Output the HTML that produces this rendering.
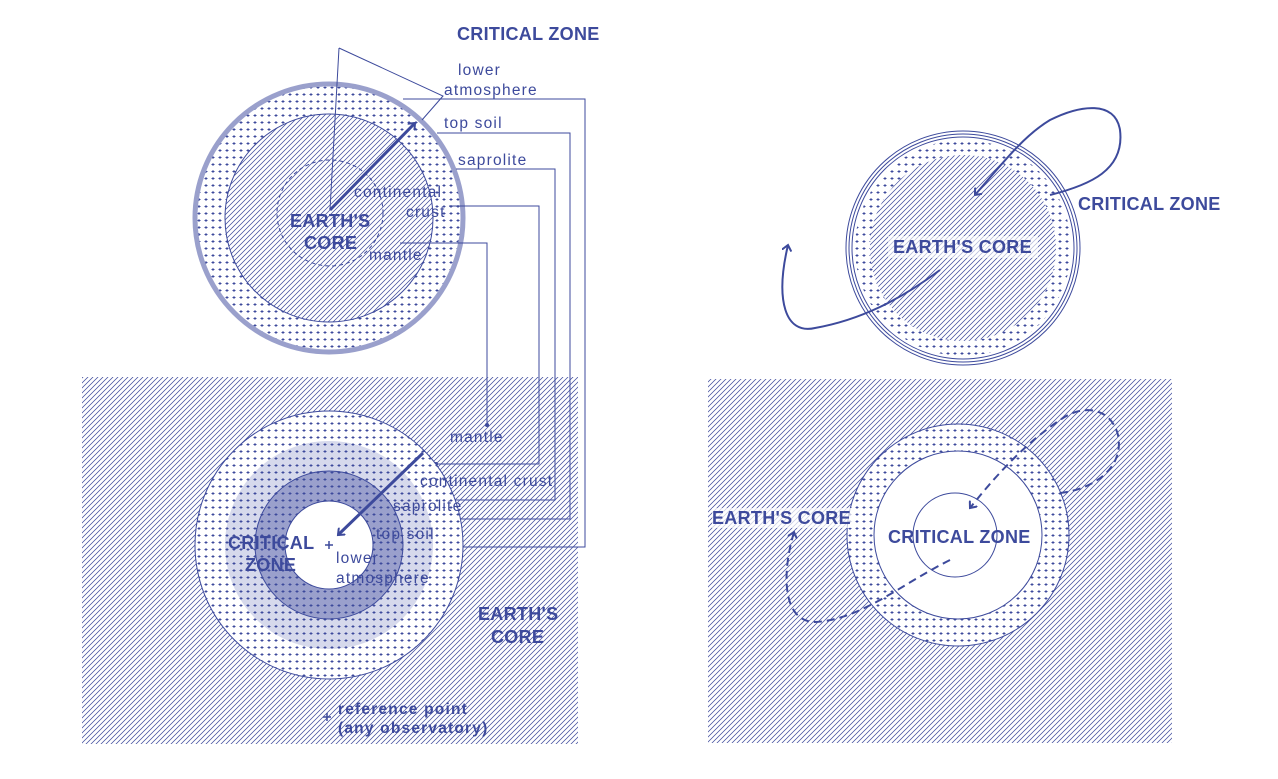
<!DOCTYPE html>
<html><head><meta charset="utf-8"><style>
html,body{margin:0;padding:0;background:#fff;}
svg{display:block;}
text{font-family:"Liberation Sans",sans-serif;fill:#3d4a9c;}
.b{font-weight:bold;font-size:18px;letter-spacing:0.3px;}
.n{font-size:15.5px;letter-spacing:1.2px;}
</style></head><body>
<svg width="1278" height="779" viewBox="0 0 1278 779" xmlns="http://www.w3.org/2000/svg">
<defs>
<pattern id="h" width="5" height="5" patternUnits="userSpaceOnUse">
<path d="M-1,1 L1,-1 M0,5 L5,0 M4,6 L6,4" stroke="#3d4a9c" stroke-width="0.75"/>
</pattern>
<pattern id="d" width="7" height="7" patternUnits="userSpaceOnUse">
<path d="M1.5,3.5 h3 M3,2 v3" stroke="#3d4a9c" stroke-width="0.9"/>
</pattern>
<marker id="ar" markerWidth="10" markerHeight="10" refX="6" refY="5" orient="auto" markerUnits="userSpaceOnUse">
<path d="M0,0 L6,5 L0,10" fill="none" stroke="#3d4a9c" stroke-width="2"/>
</marker>
</defs>
<g stroke="#3d4a9c" fill="none">
<!-- TOP LEFT -->
<circle cx="329" cy="218" r="134" fill="#fff"/>
<circle cx="329" cy="218" r="134" fill="url(#d)"/>
<circle cx="329" cy="218" r="134" stroke="#9aa0cc" stroke-width="5"/>
<circle cx="329" cy="218" r="104" fill="#fff" stroke-width="1"/>
<circle cx="329" cy="218" r="104" fill="url(#h)" stroke="none"/>
<circle cx="330" cy="213" r="53" stroke-dasharray="4,3" stroke-width="1"/>
<path d="M339,48 L330,210 M339,48 L443,96 L422,120" stroke-width="1"/>
<path d="M330,210 L415,123" stroke-width="3" marker-end="url(#ar)"/>
<g stroke-width="1">
<path d="M403,99 H585 V547 H362"/>
<path d="M437,133 H570 V519 H390"/>
<path d="M456,169 H555 V500 H403"/>
<path d="M449,206 H539 V464 H436"/>
<path d="M400,243 H487 V425"/>
</g>
<g fill="#3d4a9c" stroke="none">
<circle cx="362" cy="547" r="2"/><circle cx="390" cy="519" r="2"/><circle cx="403" cy="492" r="2"/><circle cx="436" cy="464" r="2"/><circle cx="487" cy="425" r="2"/>
</g>
<!-- BOTTOM LEFT -->
<rect x="82" y="377" width="496" height="367" fill="url(#h)" stroke="none"/>
<circle cx="329" cy="545" r="134" fill="#fff" stroke-width="1"/>
<circle cx="329" cy="545" r="134" fill="url(#d)" stroke="none"/>
<circle cx="329" cy="545" r="104" fill="#d6d9ec" stroke="none"/>
<circle cx="329" cy="545" r="104" fill="url(#d)" stroke="none"/>
<circle cx="329" cy="545" r="74" fill="#9aa0cc" stroke-width="1"/>
<circle cx="329" cy="545" r="74" fill="url(#d)" stroke="none"/>
<circle cx="329" cy="545" r="44" fill="#fff" stroke-width="1"/>
<path d="M423,453 L338,535" stroke-width="3" marker-end="url(#ar)"/>
<path d="M325,545 h8 M329,541 v8 M323,717 h8 M327,713 v8" stroke-width="1.5"/>
<!-- TOP RIGHT -->
<circle cx="963" cy="248" r="117" fill="#fff" stroke-width="1"/>
<circle cx="963" cy="248" r="114" stroke-width="1"/>
<circle cx="963" cy="248" r="111" stroke-width="1"/>
<circle cx="963" cy="248" r="108" fill="url(#d)" stroke="none"/>
<circle cx="963" cy="248" r="93" fill="#fff" stroke="none"/>
<circle cx="963" cy="248" r="93" fill="url(#h)" stroke="none"/>
<path d="M1050,195 C1090,185 1125,170 1120,130 C1115,100 1080,105 1050,120 C1025,135 1005,160 975,195" stroke-width="2" marker-end="url(#ar)"/>
<path d="M940,270 C900,300 860,320 815,328 C785,335 775,300 788,245" stroke-width="2" marker-end="url(#ar)"/>
<!-- BOTTOM RIGHT -->
<rect x="708" y="379" width="464" height="364" fill="url(#h)" stroke="none"/>
<circle cx="958" cy="535" r="111" fill="#fff" stroke-width="1"/>
<circle cx="958" cy="535" r="111" fill="url(#d)" stroke="none"/>
<circle cx="958" cy="535" r="84" fill="#fff" stroke-width="1"/>
<circle cx="955" cy="535" r="42" stroke-width="1"/>
<path d="M1060,493 C1090,490 1125,470 1118,435 C1110,405 1080,405 1060,420 C1030,440 1000,470 970,508" stroke-width="2" stroke-dasharray="8,5" marker-end="url(#ar)"/>
<path d="M950,560 C900,585 860,620 815,622 C785,622 780,580 794,532" stroke-width="2" stroke-dasharray="8,5" marker-end="url(#ar)"/>
</g>
<rect x="712" y="508" width="140" height="20" fill="#fff" opacity="0.7"/>
<rect x="888" y="236" width="150" height="22" fill="#fff" opacity="0.6"/>
<text class="b" x="457" y="40">CRITICAL ZONE</text>
<text class="n" x="458" y="75">lower</text>
<text class="n" x="444" y="95">atmosphere</text>
<text class="n" x="444" y="128">top soil</text>
<text class="n" x="458" y="165">saprolite</text>
<text class="n" x="354" y="197">continental</text>
<text class="n" x="406" y="217">crust</text>
<text class="n" x="369" y="260">mantle</text>
<text class="b" x="290" y="227">EARTH'S</text>
<text class="b" x="304" y="249">CORE</text>
<text class="n" x="450" y="442">mantle</text>
<text class="n" x="420" y="486">continental crust</text>
<text class="n" x="393" y="511">saprolite</text>
<text class="n" x="376" y="539">top soil</text>
<text class="n" x="336" y="563">lower</text>
<text class="n" x="336" y="583">atmosphere</text>
<text class="b" x="228" y="549">CRITICAL</text>
<text class="b" x="245" y="571">ZONE</text>
<text class="b" x="478" y="620">EARTH'S</text>
<text class="b" x="491" y="643">CORE</text>
<text class="n" x="338" y="714" font-weight="bold" letter-spacing="0.6">reference point</text>
<text class="n" x="338" y="733" font-weight="bold" letter-spacing="0.6">(any observatory)</text>
<text class="b" x="893" y="253">EARTH'S CORE</text>
<text class="b" x="1078" y="210">CRITICAL ZONE</text>
<text class="b" x="712" y="524">EARTH'S CORE</text>
<text class="b" x="888" y="543">CRITICAL ZONE</text>
</svg>
</body></html>
